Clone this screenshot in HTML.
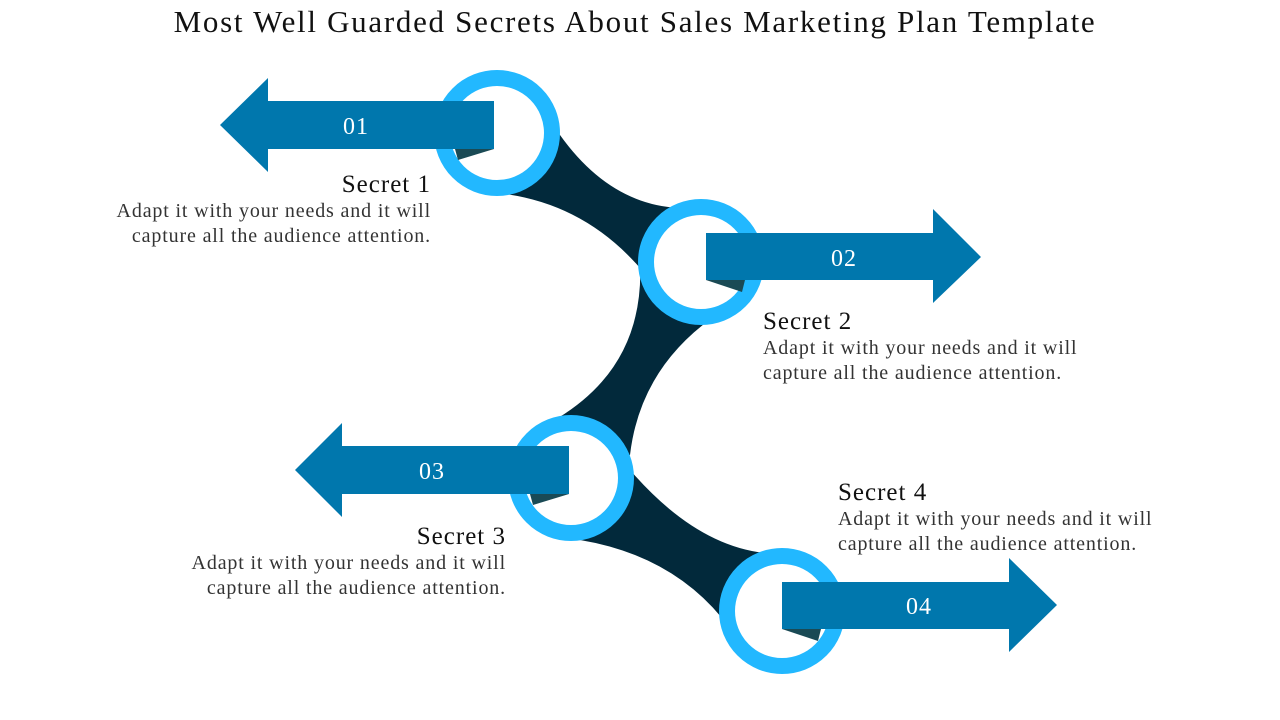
<!DOCTYPE html>
<html><head><meta charset="utf-8"><style>
body{margin:0;width:1280px;height:720px;background:#fff;overflow:hidden;position:relative;font-family:"Liberation Serif",serif}
.t{position:absolute;color:#222}
.h{font-size:25px;color:#111;letter-spacing:1px}
.b{font-size:20px;line-height:25px;color:#333;letter-spacing:0.85px;white-space:nowrap}
</style></head><body>
<div class="t" style="left:0;width:1270px;top:4px;text-align:center;font-size:31px;letter-spacing:1.7px;color:#111;white-space:nowrap">Most Well Guarded Secrets About Sales Marketing Plan Template</div>
<svg width="1280" height="720" style="position:absolute;left:0;top:0">
<g fill="#02293b">
<path d="M545,115 L560,135 Q610,205 680,208 L701,262 L640,268 Q585,205 505,194 L497,133 Z"/>
<path d="M640,262 Q645,365 558,418 L571,478 L630,455 Q640,370 712,318 L701,262 Z"/>
<path d="M620,458 Q690,545 765,553 L782,611 L722,618 Q670,555 580,540 L571,478 Z"/>
</g>
<g fill="#fff" stroke="#22b8ff" stroke-width="16">
<circle cx="497" cy="133" r="55"/>
<circle cx="701" cy="262" r="55"/>
<circle cx="571" cy="478" r="55"/>
<circle cx="782" cy="611" r="55"/>
</g>
<g fill="#1a4a55">
<polygon points="455,149 494,149 458,160"/>
<polygon points="706,280 745,280 742,292"/>
<polygon points="530,494 569,494 533,505"/>
<polygon points="782,629 821,629 818,641"/>
</g>
<g fill="#0077ad">
<polygon points="494,101 268,101 268,78 220,125 268,172 268,149 494,149"/>
<polygon points="706,233 933,233 933,209 981,257 933,303 933,280 706,280"/>
<polygon points="569,446 342,446 342,423 295,470 342,517 342,494 569,494"/>
<polygon points="782,582 1009,582 1009,558 1057,605 1009,652 1009,629 782,629"/>
</g>
<g fill="#fff" font-family="Liberation Serif, serif" font-size="24" letter-spacing="1" text-anchor="middle">
<text x="356" y="134">01</text>
<text x="844" y="266">02</text>
<text x="432" y="479">03</text>
<text x="919" y="614">04</text>
</g>
</svg>
<div class="t" style="right:849px;top:171px;text-align:right"><div class="h">Secret 1</div><div class="b">Adapt it with your needs and it will<br>capture all the audience attention.</div></div>
<div class="t" style="left:763px;top:308px"><div class="h">Secret 2</div><div class="b">Adapt it with your needs and it will<br>capture all the audience attention.</div></div>
<div class="t" style="right:774px;top:523px;text-align:right"><div class="h">Secret 3</div><div class="b">Adapt it with your needs and it will<br>capture all the audience attention.</div></div>
<div class="t" style="left:838px;top:479px"><div class="h">Secret 4</div><div class="b">Adapt it with your needs and it will<br>capture all the audience attention.</div></div>
</body></html>
